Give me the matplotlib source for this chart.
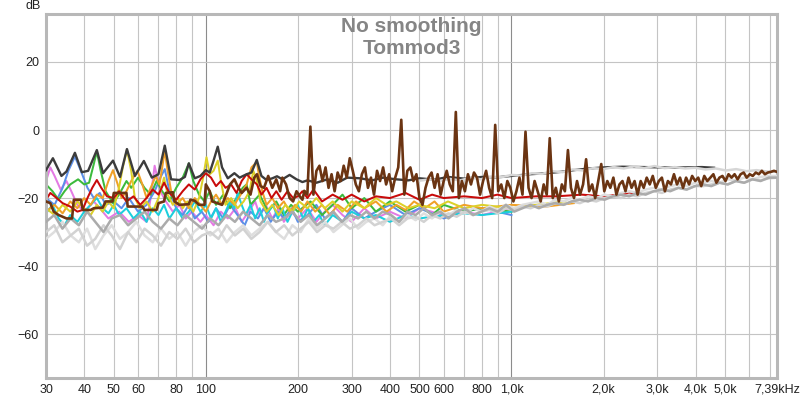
import numpy as np
import matplotlib.pyplot as plt
from matplotlib.ticker import FixedLocator, NullLocator

# ---- data (Hz, dB) ----
DARK = [(30, -11.8), (31.6, -8.3), (33.7, -13.5), (35, -12.2), (37.3, -6.7), (39.3, -12.4),
        (41.2, -12.0), (44.0, -5.9), (46.1, -12.7), (49.7, -9.0), (52.4, -13.8), (55.2, -5.6),
        (58.6, -13.5), (62.7, -9.1), (66.6, -14.0), (70, -13.0), (73.4, -4.6), (77, -14.5),
        (82, -14.7), (85.4, -13.8), (88, -9.8), (92, -14.2), (96, -13.5), (100, -11.8),
        (103, -12.5), (106, -9.0), (109.4, -4.9), (113, -11.0), (118, -14.2), (124, -12.7),
        (129, -14.0), (136, -13.0), (141, -12.5), (146.8, -8.8), (152, -13.5), (158, -14.7),
        (165, -14.2), (171, -13.6), (178, -14.5), (188, -13.2), (198, -14.5), (207, -15.3),
        (215, -14.8), (230, -15.5), (250, -14.5), (270, -15.5), (290, -14.0), (320, -14.2),
        (350, -14.8), (380, -14.0), (420, -14.5), (460, -14.8), (500, -14.2), (560, -14.6),
        (620, -13.8), (700, -14.3), (800, -13.8), (900, -13.9), (1000, -13.5), (1150, -13.0),
        (1300, -12.7), (1450, -12.3), (1600, -11.8), (1800, -11.3), (2000, -11.0),
        (2300, -10.8), (2700, -10.9), (3200, -11.0), (3700, -11.0), (4200, -10.9), (4600, -11.1)]

BROWN_LO = [(30, -21), (31, -21.5), (31.8, -24), (33, -25), (34, -25.5), (35, -26), (36.5, -26),
            (37, -20.5), (39, -20.5), (39.6, -23.5), (42, -23.5), (43, -23), (46, -22.8),
            (47, -21), (49.5, -21), (50, -18.5), (55, -18.5), (55.5, -22.5), (62, -22.5),
            (63, -23.5), (69, -23.5), (70, -21.5), (73, -21), (74, -18.5), (78, -18.3),
            (79, -21), (82, -22), (88, -21.8), (89, -20.5), (92, -20.8), (95, -22), (99, -22),
            (100, -16), (103, -18), (105, -21), (109, -21.5), (113, -22), (116, -19.5),
            (120, -16), (124, -14.5), (127, -16.5), (131, -18.5), (136, -17), (140, -19),
            (144, -14), (147, -13), (151, -16.5), (155, -17), (160, -13.5), (165, -17),
            (170, -14.5), (175, -18), (178, -14), (183, -16), (188, -20), (193, -21),
            (198, -18), (203, -19.5), (207, -20.5), (210, -18)]

# brown trace above 210 Hz, equally spaced on the log axis up to 7.39 kHz
BROWN_HI = [-18, -19, 1, -19, -12, -10.5, -15, -11, -17, -13, -18, -12.5, -15, -10.5, -14,
            -8.3, -12, -16, -18, -13, -11, -17, -14, -19, -12, -15, -11, -16, -13, -18, -14, -11,
            3, -19, -12, -11, -15, -13, -20, -22, -17, -14, -12.5, -17, -13, -19, -15, -12, -16, -18,
            5.3, -20, -15, -18, -13, -16, -12.5, -14, -19, -15, -12, -17, -20,
            1.5, -18, -16, -20, -15, -17, -21, -18, -14, -19,
            -0.5, -17, -20, -15, -18, -21, -16, -19,
            -2.4, -20, -17, -21, -16, -18,
            -5.9, -17, -20, -15, -19, -16,
            -8.6, -18, -16, -20, -15,
            -10, -18, -15, -17, -14, -19, -16, -15, -18, -14, -17, -15, -19,
            -15, -17, -14, -16, -13.5, -17, -15, -14, -18, -15, -16, -13, -16, -14, -17,
            -14, -16, -13.5, -15, -14, -16.5, -13.5, -15, -14, -13, -15.5, -14, -13.5, -15, -13,
            -14, -13, -14.5, -13, -12.5, -14, -13, -13.5, -12.5, -13, -12, -13, -12.5, -12.3, -12, -12.3]

PINK = [(30, -15), (31, -11), (32, -13.5), (33.5, -17.5), (35, -15), (36.3, -18), (38, -22),
        (40, -24), (43, -21), (45, -23), (48, -26), (52, -24), (56, -27), (60, -25), (64, -27),
        (66, -20), (68, -10.5), (71, -18), (74, -21), (78, -24), (82, -22), (86, -26), (90, -24),
        (96, -27), (100, -25), (106, -28), (112, -24), (118, -26), (125, -23), (131, -27),
        (138, -24), (145, -21), (150, -25), (157, -22), (165, -26), (173, -23), (180, -27),
        (190, -24), (200, -26), (215, -23), (230, -27), (245, -24), (260, -22), (280, -25),
        (300, -27), (330, -23), (360, -26), (400, -24), (450, -26), (500, -23), (600, -25),
        (700, -24), (800, -25), (1000, -23)]

BLUE = [(30, -20), (32, -22), (34, -17), (35.5, -12), (37.3, -7.8), (39, -12), (41, -17),
        (43, -20), (45, -18.5), (47, -22), (50, -21), (53, -23), (56, -20), (60, -24), (64, -22),
        (68, -18), (71, -14), (73.4, -11.5), (76, -18), (80, -23), (84, -25), (88, -22),
        (92, -26), (97, -24), (102, -27), (108, -23), (114, -26), (120, -22), (127, -25),
        (134, -28), (140, -24), (148, -26), (155, -23), (163, -27), (172, -24), (181, -26),
        (191, -23), (200, -27), (215, -25), (230, -22), (245, -26), (260, -24), (280, -27),
        (300, -23), (330, -26), (360, -24), (400, -22), (450, -25), (500, -23), (600, -26),
        (700, -24), (800, -23), (1000, -25)]

GREEN = [(30, -16), (31.5, -18), (33, -20.5), (34.5, -18), (36, -16), (38.2, -14.5), (40, -16),
         (41.5, -15.5), (43, -10), (44, -6.3), (45.3, -12), (47, -18), (49.7, -21.5), (52, -19),
         (55, -15), (57, -17), (60, -14), (63, -17), (66, -19), (69, -15), (72, -18), (76, -21),
         (80, -17), (84, -14), (88, -9.8), (91, -15), (95, -19), (99, -21), (103, -18),
         (108, -22), (114, -19), (120, -23), (126, -20), (132, -17), (136, -16), (140, -22),
         (150, -19), (160, -24), (170, -21), (180, -25), (190, -22), (200, -24), (220, -21),
         (240, -25), (260, -22), (280, -19), (300, -23), (330, -20), (360, -24), (400, -21),
         (450, -24), (500, -22), (550, -25), (600, -22), (700, -24), (800, -23), (1000, -24)]

RED = [(30, -20.5), (31, -18.5), (32.5, -20), (34, -21.5), (36, -22.5), (38, -24), (39.5, -23.5),
       (41, -20), (42.5, -17), (44, -14.7), (45.5, -17), (47.5, -19.5), (50, -20), (52, -18),
       (55, -21), (58, -19.5), (61, -22), (64, -20), (67, -17.5), (70, -19), (73, -15.5),
       (76, -18.5), (80, -20.5), (84, -18), (88, -16), (92, -17.5), (96, -14.5), (100, -12.7),
       (104, -14), (108, -16.5), (112, -15), (116, -17), (121, -16), (126, -18.5), (131, -15),
       (136, -13), (141, -14.5), (147, -16), (152, -19), (158, -17), (164, -20), (170, -18),
       (177, -20.5), (185, -18), (193, -20), (200, -19.5), (207, -18), (215, -20), (225, -17.5),
       (240, -21), (260, -19), (280, -20.5), (300, -19), (330, -21), (360, -19.5), (400, -20),
       (450, -18.5), (500, -20.5), (550, -19), (600, -20), (700, -19.5), (800, -20), (900, -19),
       (1000, -20), (1200, -19.5), (1400, -19.5), (1700, -19), (2000, -19.5), (2500, -18.5)]

ORANGE = [(30, -24), (32, -22), (34, -24.5), (36, -21), (38, -23), (40, -20), (42, -22),
          (44, -19), (46, -20), (48, -15), (49.7, -11.8), (51.5, -16), (53, -20), (55, -18),
          (57, -15), (59.7, -12), (62, -16), (64, -20), (66, -17), (68.6, -13.5), (70.5, -16),
          (72, -11), (73.4, -6), (75, -12), (77, -18), (80, -22), (84, -20), (88, -23), (92, -20),
          (96, -22), (100, -24), (104, -21), (108, -19), (113, -22), (118, -20), (124, -22),
          (130, -19), (136, -16), (141, -11), (146.8, -9.4), (149, -13), (153, -18), (158, -22),
          (165, -20), (172, -23), (180, -21), (188, -24), (196, -22), (205, -24), (215, -21),
          (228, -24), (240, -22), (255, -25), (270, -22), (290, -24), (310, -21), (330, -23),
          (360, -21), (390, -24), (420, -22), (450, -23.5), (480, -21), (520, -23), (560, -21),
          (600, -24), (700, -22), (800, -23), (1000, -22), (1300, -22.5), (1600, -21.5)]

YELLOW = [(30, -23), (32, -25), (34, -22), (36, -24), (38, -21), (40, -23), (42, -25), (44, -22),
          (46, -24), (48, -21), (50, -23), (52, -17), (53.5, -11), (55.2, -5.8), (57, -12),
          (58.6, -20), (61, -23), (64, -21), (67, -24), (70, -20), (73, -14), (75, -19),
          (78, -22), (81, -20), (84, -23), (87, -21), (91, -24), (95, -20), (98, -14),
          (100.5, -8), (103, -13), (106, -12), (109.4, -9), (112, -15), (116, -22), (121, -20),
          (127, -23), (133, -21), (139, -18), (143, -12), (147, -15), (151, -21), (158, -24),
          (165, -22), (173, -25), (182, -22), (192, -24), (202, -21), (215, -23), (230, -20),
          (245, -23), (260, -21), (280, -24), (300, -21), (330, -23), (360, -20), (390, -22),
          (420, -21), (460, -23), (500, -22), (560, -23), (620, -21), (700, -23), (800, -22),
          (1000, -23), (1200, -22), (1500, -21)]

CYAN = [(30, -24.5), (31.5, -22), (33, -26), (34.5, -28), (36, -25), (38, -27), (40, -24),
        (42, -22), (44, -20), (46, -23), (48, -24.5), (50, -22), (52, -25), (55, -23), (58, -26),
        (61, -24), (64, -27), (67, -23), (70, -25), (73, -22), (76, -26), (80, -23), (84, -26),
        (88, -24), (92, -21), (96, -24), (100, -22), (104, -26), (108, -23), (112, -27),
        (116, -24), (120, -21), (124, -23), (127, -18.5), (131, -22), (135, -25), (140, -22),
        (145, -26), (150, -23), (155, -27), (160, -24), (166, -22), (172, -26), (178, -23),
        (185, -27), (192, -24), (200, -22), (208, -26), (216, -23), (225, -27), (235, -25),
        (245, -28), (260, -25), (280, -27), (300, -24), (330, -26), (360, -25), (400, -27),
        (450, -25), (500, -26), (600, -25), (700, -24.5), (800, -25), (1000, -24)]

# gray traces, equally spaced on the log axis from 30 Hz to 7.39 kHz
GRAY_MED = [-27, -25, -29, -26, -28, -24, -27, -30, -26, -25, -28, -26, -24, -27, -29, -26, -28, -25, -27, -29,
            -26, -28, -25, -27, -24, -26, -28, -25, -27, -26, -24, -27, -25, -28, -26, -24, -27, -25, -26, -24,
            -26, -24, -25, -27, -24, -25, -23, -25, -24, -26, -24, -23, -25, -24, -23, -24, -22, -24, -23, -22,
            -23, -22, -21.5, -22, -21, -20.5, -21, -20, -20.5, -19.5, -19, -19.5, -18.5, -19, -18, -17.5, -18, -17, -17.5, -16.5,
            -16, -16.5, -15.5, -16, -15, -15.5, -14.5, -15, -14, -14]

GRAY_LT = [-30, -28, -33, -31, -29, -34, -32, -28, -31, -35, -30, -33, -29, -31, -34, -30, -32, -29, -33, -31,
           -30, -32, -28, -31, -29, -32, -30, -27, -30, -28, -31, -29, -27, -30, -28, -29, -27, -29, -28, -26,
           -28, -27, -26, -28, -26, -25.5, -27, -25, -26, -24.5, -25.5, -24, -25, -24, -23.5, -24.5, -23, -23.5, -22.5, -23,
           -22, -22.5, -21.5, -22, -21, -21.5, -20.5, -21, -20, -19.5, -20, -19, -19.5, -18.5, -18, -18.5, -17.5, -17, -17.5, -16.5,
           -16.5, -16, -15.5, -16, -15, -15.5, -14.5, -14.8, -14.2, -14]

GRAY_LT2 = [-32, -30, -27, -31, -33, -29, -35, -31, -28, -32, -30, -27, -31, -33, -29, -32, -30, -34, -30, -28,
            -31, -29, -33, -30, -28, -31, -29, -27, -30, -32, -28, -30, -26, -29, -27, -30, -28, -26, -29, -27,
            -26, -28, -25, -27, -25, -26.5, -24.5, -26, -24, -25, -23.5, -24.5, -23, -24, -22.5, -23.5, -22, -23, -22, -21.5,
            -21, -22, -20.5, -21, -20, -20.5, -19.5, -20, -19, -19.5, -18.5, -18, -18.5, -17.5, -17, -17.5, -16.5, -16, -16.5, -15.5,
            -15.5, -15, -15.5, -14.5, -14.8, -14, -14.5, -13.8, -13.5, -13.5]

# upper light gray trace, 500 Hz to 7.39 kHz
GRAY_TOP = [-14.9, -14.5, -15.0, -14.4, -14.8, -14.0, -14.5, -13.7, -13.9, -13.2, -13.4, -12.7,
            -12.9, -12.1, -12.4, -11.6, -11.9, -11.2, -11.5, -10.9, -11.3, -10.7, -11.2, -10.6,
            -11.2, -10.9, -11.3, -11.1, -11.6, -11.3, -11.9, -11.5, -12.1, -11.8, -12.2, -12.3]

X_TICKS = [30, 40, 50, 60, 80, 100, 200, 300, 400, 500, 600, 800, 1000, 2000, 3000, 4000, 5000, 7390]
X_LABELS = ['30', '40', '50', '60', '80', '100', '200', '300', '400', '500', '600', '800',
            '1,0k', '2,0k', '3,0k', '4,0k', '5,0k', '7,39kHz']
Y_TICKS = [20, 0, -20, -40, -60]

plt.rcParams['font.family'] = ['Liberation Sans Narrow', 'Liberation Sans', 'DejaVu Sans']

fig = plt.figure(figsize=(8.0, 3.99), dpi=100)
ax = fig.add_axes([46 / 800, 21 / 399, 731 / 800, 364 / 399])
ax.set_xscale('log')
ax.set_xlim(30, 7390)
ax.set_ylim(-72.9, 34.1)


def pairs(p):
    a = np.array(p, dtype=float)
    return a[:, 0], a[:, 1]


# colored traces (underneath)
for data, col in [(PINK, '#e47ae4'), (BLUE, '#5b8fe8'), (GREEN, '#3cba3c'), (CYAN, '#1ccfdc'),
                  (ORANGE, '#f0a028'), (YELLOW, '#dcd028'), (RED, '#c80a0a')]:
    f, db = pairs(data)
    ax.plot(f, db, color=col, lw=1.45, zorder=2, solid_joinstyle='round')

f, db = pairs(DARK)
ax.plot(f, db, color='#3c3c3c', lw=1.7, zorder=3)

for vals, col in [(GRAY_LT2, '#dedede'), (GRAY_LT, '#d2d2d2'), (GRAY_MED, '#ababab')]:
    ax.plot(np.geomspace(30, 7390, len(vals)), vals, color=col, lw=1.8, zorder=4)
ax.plot(np.geomspace(500, 7390, len(GRAY_TOP)), GRAY_TOP, color='#d6d6d6', lw=1.8, zorder=4)

f, db = pairs(BROWN_LO)
ax.plot(f, db, color='#6b3412', lw=1.9, zorder=5)
ax.plot(np.geomspace(210, 7390, len(BROWN_HI)), BROWN_HI, color='#6b3412', lw=1.9, zorder=5)

# grid
minor = list(range(40, 100, 10)) + list(range(200, 1000, 100)) + list(range(2000, 8000, 1000))
for f in minor:
    ax.axvline(f, color='#c4c4c4', lw=0.8, zorder=1)
for f in [100, 1000]:
    ax.axvline(f, color='#8c8c8c', lw=0.8, zorder=1)
for y in Y_TICKS:
    ax.axhline(y, color='#c4c4c4', lw=0.8, zorder=1)

ax.xaxis.set_major_locator(FixedLocator(X_TICKS))
ax.xaxis.set_minor_locator(NullLocator())
ax.set_xticklabels(X_LABELS)
ax.set_yticks(Y_TICKS)
ax.tick_params(length=0, labelsize=9, colors='#222222')
ax.tick_params(axis='x', pad=4)
ax.tick_params(axis='y', pad=5)

for s in ax.spines.values():
    s.set_color('#b8b8b8')
    s.set_linewidth(2.2)

fig.text(33 / 800, 1 - 6 / 399, 'dB', fontsize=9, ha='center', va='center', color='#222222')
ax.text(0.5, 0.965, 'No smoothing', transform=ax.transAxes, ha='center', va='center',
        fontsize=15, fontweight='bold', color='#858585', family=['Liberation Sans', 'DejaVu Sans'])
ax.text(0.5, 0.905, 'Tommod3', transform=ax.transAxes, ha='center', va='center',
        fontsize=15, fontweight='bold', color='#858585', family=['Liberation Sans', 'DejaVu Sans'])

fig.savefig('out.png', dpi=100)
